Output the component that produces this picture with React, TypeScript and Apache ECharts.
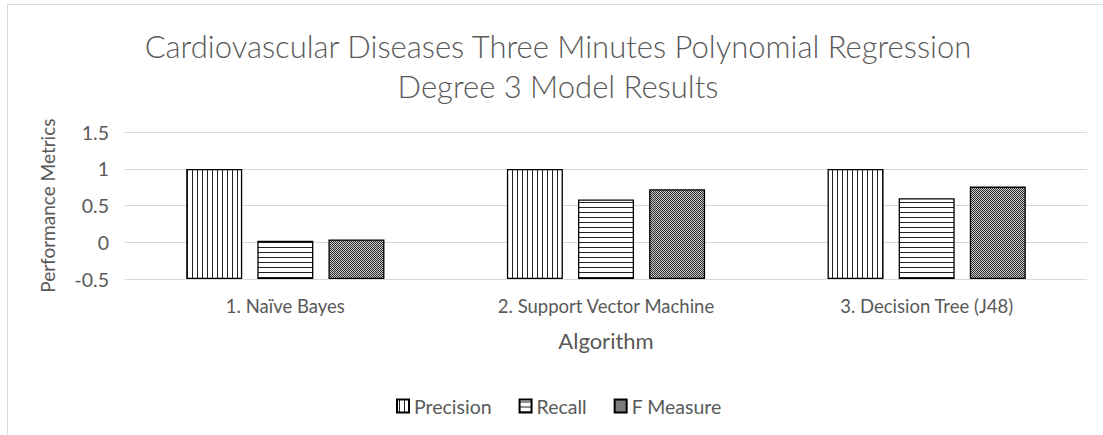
import React, { useEffect, useRef } from "react";
import * as echarts from "echarts";

const categories = ["1. Naïve Bayes", "2. Support Vector Machine", "3. Decision Tree (J48)"];
const seriesNames = ["Precision", "Recall", "F Measure"];
const precision = [1, 1, 1];
const recall = [0.02, 0.584, 0.6];
const fMeasure = [0.04, 0.724, 0.76];
const axisMin = -0.5;
const axisMax = 1.5;
const axisStep = 0.5;

const FONT = "Lato, 'Open Sans', sans-serif";
const TXT = "#595959";

function makePattern(kind: string) {
  const size = kind === "check" ? 2 : 5;
  const c = document.createElement("canvas");
  c.width = size;
  c.height = size;
  const ctx = c.getContext("2d")!;
  ctx.fillStyle = "#ffffff";
  ctx.fillRect(0, 0, size, size);
  if (kind === "v") {
    ctx.fillStyle = "#222222";
    ctx.fillRect(2, 0, 1, size);
  } else if (kind === "h") {
    ctx.fillStyle = "#222222";
    ctx.fillRect(0, 2, size, 1);
  } else {
    ctx.fillStyle = "#2b2b2b";
    ctx.fillRect(0, 0, 1, 1);
    ctx.fillRect(1, 1, 1, 1);
    ctx.fillStyle = "#cdcdcd";
    ctx.fillRect(1, 0, 1, 1);
    ctx.fillRect(0, 1, 1, 1);
  }
  return { image: c.toDataURL(), repeat: "repeat", imageWidth: size, imageHeight: size } as any;
}

export default function App() {
  const ref = useRef<HTMLDivElement>(null);
  useEffect(() => {
    document.body.style.margin = "0";
    const chart = echarts.init(ref.current!, null, { renderer: "svg" });
    const patterns = [makePattern("v"), makePattern("h"), makePattern("check")];
    const values = [precision, recall, fMeasure];
    const barWidth = 56;
    const series: any[] = [];
    values.forEach((vals, i) => {
      const stack = "s" + i;
      series.push({
        name: "_base" + i,
        type: "bar",
        stack,
        stackStrategy: "all",
        barWidth,
        barGap: "27%",
        silent: true,
        itemStyle: { color: "rgba(0,0,0,0)" },
        data: vals.map(() => axisMin),
      });
      series.push({
        name: seriesNames[i],
        type: "bar",
        stack,
        stackStrategy: "all",
        barWidth,
        barGap: "27%",
        itemStyle: { color: patterns[i], borderColor: "#000", borderWidth: 1.3 },
        data: vals.map((v) => v - axisMin),
      });
    });
    const titleStyle = {
      fill: TXT,
      font: `300 31px ${FONT}`,
      textAlign: "center",
      textVerticalAlign: "middle",
    };
    chart.setOption({
      animation: false,
      backgroundColor: "#ffffff",
      textStyle: { fontFamily: FONT },
      graphic: [
        {
          type: "rect",
          shape: { x: 7.5, y: 4.5, width: 1200, height: 600 },
          style: { fill: "none", stroke: "#d9d9d9", lineWidth: 1 },
          silent: true,
        },
        {
          type: "text",
          x: 558,
          y: 46,
          style: { ...titleStyle, text: "Cardiovascular Diseases Three Minutes Polynomial Regression" },
        },
        {
          type: "text",
          x: 558,
          y: 86,
          style: { ...titleStyle, text: "Degree 3 Model Results" },
        },
      ],
      legend: {
        data: seriesNames.map((n) => ({ name: n, icon: "rect" })),
        left: 391,
        top: 391,
        itemWidth: 12,
        itemHeight: 13,
        itemGap: 27,
        textStyle: { color: TXT, fontSize: 19.5, fontFamily: FONT },
        selectedMode: false,
      },
      grid: { left: 125, right: 16, top: 132.3, bottom: 156 },
      xAxis: {
        type: "category",
        data: categories,
        axisLine: { show: false },
        axisTick: { show: false },
        axisLabel: { color: TXT, fontSize: 18.5, margin: 17 },
        name: "Algorithm",
        nameLocation: "middle",
        nameGap: 50,
        nameTextStyle: { color: TXT, fontSize: 22 },
      },
      yAxis: {
        type: "value",
        min: axisMin,
        max: axisMax,
        interval: axisStep,
        axisLine: { show: false },
        axisTick: { show: false },
        axisLabel: { color: TXT, fontSize: 19.5, margin: 16 },
        splitLine: { lineStyle: { color: "#d9d9d9", width: 1 } },
        name: "Performance Metrics",
        nameLocation: "middle",
        nameGap: 68,
        nameTextStyle: { color: TXT, fontSize: 19 },
      },
      series,
    });
    return () => chart.dispose();
  }, []);
  return <div ref={ref} style={{ width: 1103, height: 435 }} />;
}
